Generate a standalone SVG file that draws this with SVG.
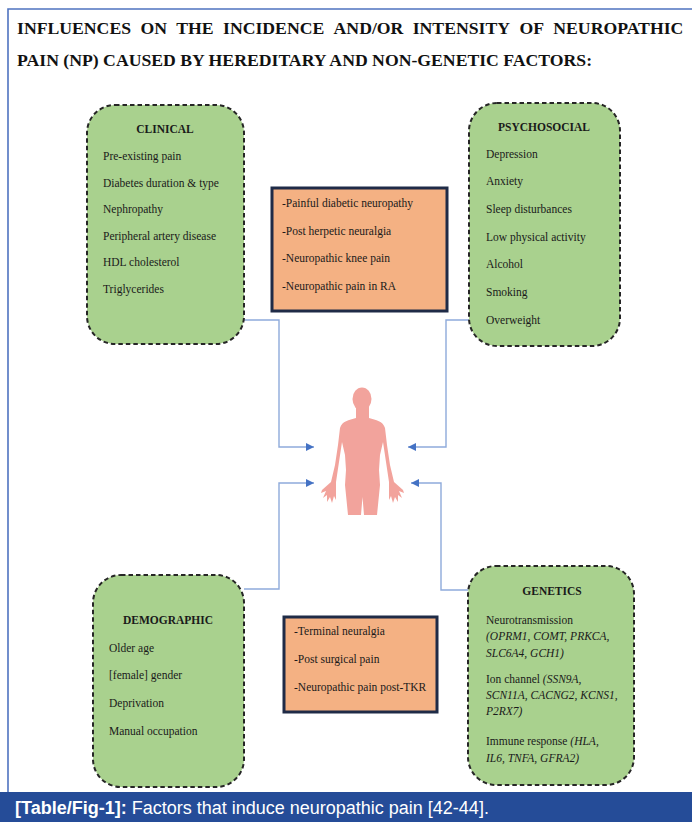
<svg xmlns="http://www.w3.org/2000/svg" width="692" height="822" viewBox="0 0 692 822">
<defs>
<style>
.t{font-family:"Liberation Serif","Times New Roman",serif;font-size:11.5px;fill:#1a1a1a}
.h{font-family:"Liberation Serif","Times New Roman",serif;font-size:11.5px;font-weight:bold;fill:#1a1a1a}
.i{font-style:italic}
.ttl{font-family:"Liberation Serif","Times New Roman",serif;font-size:17.7px;font-weight:bold;fill:#111}
.g{fill:#a9d18e;stroke:#262626;stroke-width:2;stroke-dasharray:4.5 3}
.o{fill:#f4b183;stroke:#1f2b47;stroke-width:3}
.c{fill:none;stroke:#8eaadb;stroke-width:1.4}
.cap{font-family:"Liberation Sans",Arial,sans-serif;font-size:18px;fill:#fff}
</style>
<marker id="arr" markerWidth="10" markerHeight="10" refX="8" refY="4" orient="auto" markerUnits="userSpaceOnUse">
<path d="M0,0 L8,4 L0,8 Z" fill="#4472c4"/>
</marker>
</defs>
<rect x="0" y="0" width="692" height="822" fill="#fff"/>
<g id="frame">
<path d="M8,792 V9 H692" fill="none" stroke="#4f73c0" stroke-width="1.6"/>
</g>
<g id="title">
<text class="ttl" y="34"><tspan x="17">INFLUENCES</tspan><tspan x="140.4">ON</tspan><tspan x="176.3">THE</tspan><tspan x="223">INCIDENCE</tspan><tspan x="333.6">AND/OR</tspan><tspan x="412.7">INTENSITY</tspan><tspan x="519.4">OF</tspan><tspan x="553.3">NEUROPATHIC</tspan></text>
<text class="ttl" x="17" y="66">PAIN (NP) CAUSED BY HEREDITARY AND NON-GENETIC FACTORS:</text>
</g>
<g id="connectors">
<path class="c" d="M244,320 H279 V447 H314" marker-end="url(#arr)"/>
<path class="c" d="M469,320 H446 V447 H408" marker-end="url(#arr)"/>
<path class="c" d="M244,589 H279 V483 H314" marker-end="url(#arr)"/>
<path class="c" d="M468,590 H441 V483 H411" marker-end="url(#arr)"/>
</g>
<g id="clinical">
<rect class="g" x="87" y="105" width="157" height="239" rx="28"/>
<text class="h" x="165" y="133" text-anchor="middle">CLINICAL</text>
<text class="t" x="103" y="160">Pre-existing pain</text>
<text class="t" x="103" y="187">Diabetes duration &amp; type</text>
<text class="t" x="103" y="213">Nephropathy</text>
<text class="t" x="103" y="240">Peripheral artery disease</text>
<text class="t" x="103" y="266">HDL cholesterol</text>
<text class="t" x="103" y="293">Triglycerides</text>
</g>
<g id="conditions-top">
<rect class="o" x="272" y="188" width="175" height="123"/>
<text class="t" x="282" y="207">-Painful diabetic neuropathy</text>
<text class="t" x="282" y="235">-Post herpetic neuralgia</text>
<text class="t" x="282" y="262">-Neuropathic knee pain</text>
<text class="t" x="282" y="290">-Neuropathic pain in RA</text>
</g>
<g id="psychosocial">
<rect class="g" x="469" y="103" width="151" height="243" rx="28"/>
<text class="h" x="544" y="131" text-anchor="middle">PSYCHOSOCIAL</text>
<text class="t" x="486" y="158">Depression</text>
<text class="t" x="486" y="185">Anxiety</text>
<text class="t" x="486" y="213">Sleep disturbances</text>
<text class="t" x="486" y="241">Low physical activity</text>
<text class="t" x="486" y="268">Alcohol</text>
<text class="t" x="486" y="296">Smoking</text>
<text class="t" x="486" y="324">Overweight</text>
</g>
<g id="human">
<ellipse cx="362" cy="399" rx="9.5" ry="11.5" fill="#f2a39c"/>
<path fill="#f2a39c" d="M356,406 L369,406 L369,418 C376,420 383,421 385,428 L387,445 L390,465 L394,482 L403,490 L404,493 L399,491 L402,498 L398,495 L398,502 L395,497 L393,503 L391,496 L389,500 L389,490 L389,482 L386,462 L383,442 L380,455 L379,470 L380,485 L377,515 L364,515 L362.5,497 L361,515 L348,515 L345,485 L346,470 L345,455 L342,442 L339,462 L336,482 L336,490 L336,500 L334,496 L332,503 L330,497 L327,502 L327,495 L323,498 L326,491 L321,493 L322,490 L331,482 L335,465 L338,445 L340,428 C342,421 349,420 356,418 Z"/>
</g>
<g id="demographic">
<rect class="g" x="93" y="575" width="151" height="212" rx="28"/>
<text class="h" x="168" y="624" text-anchor="middle">DEMOGRAPHIC</text>
<text class="t" x="109" y="652">Older age</text>
<text class="t" x="109" y="679">[female] gender</text>
<text class="t" x="109" y="707">Deprivation</text>
<text class="t" x="109" y="735">Manual occupation</text>
</g>
<g id="conditions-bottom">
<rect class="o" x="284" y="617" width="153" height="95"/>
<text class="t" x="294" y="635">-Terminal neuralgia</text>
<text class="t" x="294" y="663">-Post surgical pain</text>
<text class="t" x="294" y="691">-Neuropathic pain post-TKR</text>
</g>
<g id="genetics">
<rect class="g" x="468" y="566" width="166" height="219" rx="28"/>
<text class="h" x="552" y="595" text-anchor="middle">GENETICS</text>
<text class="t" x="486" y="624">Neurotransmission</text>
<text class="t i" x="486" y="640">(OPRM1, COMT, PRKCA,</text>
<text class="t i" x="486" y="657">SLC6A4, GCH1)</text>
<text class="t" x="486" y="683">Ion channel <tspan class="i">(SSN9A,</tspan></text>
<text class="t i" x="486" y="699">SCN11A, CACNG2, KCNS1,</text>
<text class="t i" x="486" y="715">P2RX7)</text>
<text class="t" x="486" y="745">Immune response <tspan class="i">(HLA,</tspan></text>
<text class="t i" x="486" y="762">IL6, TNFA, GFRA2)</text>
</g>
<g id="caption">
<rect x="0" y="792" width="692" height="30" fill="#254c98"/>
<text class="cap" x="15" y="814"><tspan font-weight="bold">[Table/Fig-1]:</tspan> Factors that induce neuropathic pain [42-44].</text>
</g>
</svg>
